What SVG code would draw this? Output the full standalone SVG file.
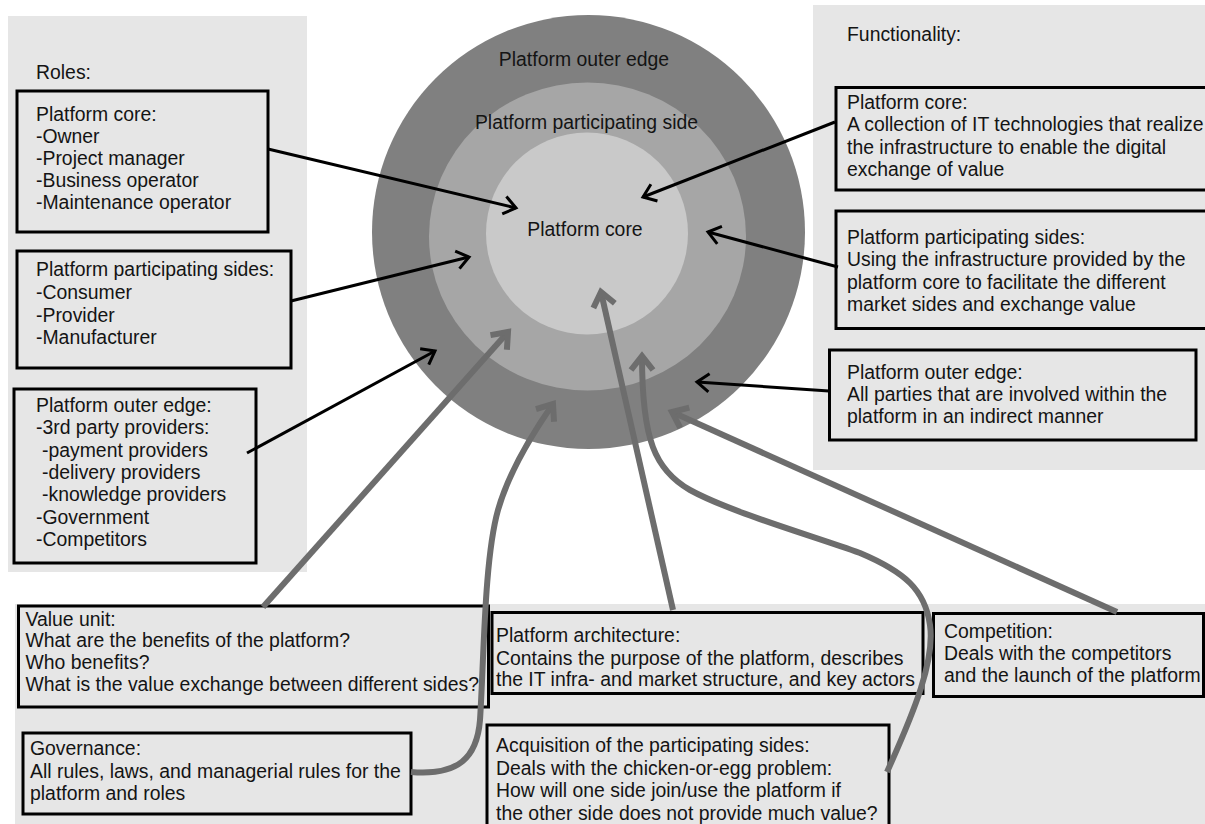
<svg xmlns="http://www.w3.org/2000/svg" width="1205" height="824" viewBox="0 0 1205 824">
  <style>
    .panel { fill: #e6e6e6; }
    .box { fill: #e6e6e6; stroke: #000; stroke-width: 3; }
    text { font-family: "Liberation Sans", Arial, sans-serif; font-size: 19.4px; fill: #141414; }
    .black { fill: none; stroke: #000; stroke-width: 3; marker-end: url(#headBlack); }
    .gray { fill: none; stroke: #6d6d6d; stroke-width: 6; marker-end: url(#headGray); }
  </style>
  <defs>
    <marker id="headBlack" markerUnits="userSpaceOnUse" orient="auto" overflow="visible" refX="0" refY="0" markerWidth="1" markerHeight="1">
      <path d="M -12 -9 L 0 0 L -12 9" fill="none" stroke="#000" stroke-width="3" stroke-linejoin="miter"/>
    </marker>
    <marker id="headGray" markerUnits="userSpaceOnUse" orient="auto" overflow="visible" refX="0" refY="0" markerWidth="1" markerHeight="1">
      <path d="M -14 -11 L 0 0 L -14 11" fill="none" stroke="#6d6d6d" stroke-width="6" stroke-linejoin="miter"/>
    </marker>
  </defs>

  <rect width="1205" height="824" fill="#fff"/>

  <!-- background panels -->
  <g id="panels">
    <rect class="panel" x="8" y="16" width="299" height="556"/>
    <rect class="panel" x="813" y="5" width="392" height="465"/>
    <rect class="panel" x="15" y="604" width="1190" height="220"/>
  </g>

  <!-- concentric platform layers -->
  <g id="platform">
    <ellipse cx="588.5" cy="232" rx="216.5" ry="217" fill="#808080"/>
    <ellipse cx="587.5" cy="236.5" rx="158.5" ry="154" fill="#a6a6a6"/>
    <circle cx="587" cy="233.5" r="101" fill="#c9c9c9"/>
    <text x="584" y="66" text-anchor="middle">Platform outer edge</text>
    <text x="586.5" y="129" text-anchor="middle">Platform participating side</text>
    <text x="585" y="236" text-anchor="middle">Platform core</text>
  </g>

  <!-- roles -->
  <g id="roles-title"><text x="36" y="79">Roles:</text></g>
  <g id="role-core">
    <rect class="box" x="17" y="91" width="251" height="141"/>
    <text x="36" y="121">Platform core:</text>
    <text x="36" y="143">-Owner</text>
    <text x="36" y="165">-Project manager</text>
    <text x="36" y="187">-Business operator</text>
    <text x="36" y="209">-Maintenance operator</text>
  </g>
  <g id="role-sides">
    <rect class="box" x="17" y="251" width="274" height="117"/>
    <text x="36" y="276">Platform participating sides:</text>
    <text x="36" y="299">-Consumer</text>
    <text x="36" y="321.5">-Provider</text>
    <text x="36" y="344">-Manufacturer</text>
  </g>
  <g id="role-edge">
    <rect class="box" x="14" y="389" width="242" height="174"/>
    <text x="36" y="411.5">Platform outer edge:</text>
    <text x="36" y="434">-3rd party providers:</text>
    <text x="42" y="456.5">-payment providers</text>
    <text x="42" y="479">-delivery providers</text>
    <text x="42" y="501">-knowledge providers</text>
    <text x="36" y="523.5">-Government</text>
    <text x="36" y="546">-Competitors</text>
  </g>

  <!-- functionality -->
  <g id="func-title"><text x="847" y="41">Functionality:</text></g>
  <g id="func-core">
    <rect class="box" x="836" y="87.5" width="380" height="102.5"/>
    <text x="847" y="108.5">Platform core:</text>
    <text x="847" y="131">A collection of IT technologies that realize</text>
    <text x="847" y="153.5">the infrastructure to enable the digital</text>
    <text x="847" y="175.5">exchange of value</text>
  </g>
  <g id="func-sides">
    <rect class="box" x="836" y="211" width="380" height="117.5"/>
    <text x="847" y="244">Platform participating sides:</text>
    <text x="847" y="266">Using the infrastructure provided by the</text>
    <text x="847" y="288.5">platform core to facilitate the different</text>
    <text x="847" y="310.5">market sides and exchange value</text>
  </g>
  <g id="func-edge">
    <rect class="box" x="829.5" y="350" width="366.5" height="90"/>
    <text x="847" y="378.5">Platform outer edge:</text>
    <text x="847" y="401">All parties that are involved within the</text>
    <text x="847" y="423">platform in an indirect manner</text>
  </g>

  <!-- design topics -->
  <g id="value-unit">
    <rect class="box" x="18.5" y="606" width="470" height="101"/>
    <text x="25.5" y="626">Value unit:</text>
    <text x="25.5" y="647">What are the benefits of the platform?</text>
    <text x="25.5" y="669">Who benefits?</text>
    <text x="25.5" y="691">What is the value exchange between different sides?</text>
  </g>
  <g id="governance">
    <rect class="box" x="23" y="733" width="388" height="81"/>
    <text x="30" y="755">Governance:</text>
    <text x="30" y="777.5">All rules, laws, and managerial rules for the</text>
    <text x="30" y="800">platform and roles</text>
  </g>
  <g id="architecture">
    <rect class="box" x="492" y="612.5" width="431" height="81"/>
    <text x="496" y="642">Platform architecture:</text>
    <text x="496" y="664.5">Contains the purpose of the platform, describes</text>
    <text x="496" y="686">the IT infra- and market structure, and key actors</text>
  </g>
  <g id="acquisition">
    <rect class="box" x="487" y="725" width="402" height="110"/>
    <text x="496" y="752">Acquisition of the participating sides:</text>
    <text x="496" y="774.5">Deals with the chicken-or-egg problem:</text>
    <text x="496" y="797">How will one side join/use the platform if</text>
    <text x="496" y="819.5">the other side does not provide much value?</text>
  </g>
  <g id="competition">
    <rect class="box" x="933.5" y="613.5" width="270" height="83"/>
    <text x="944" y="637.5">Competition:</text>
    <text x="944" y="660">Deals with the competitors</text>
    <text x="944" y="682">and the launch of the platform</text>
  </g>

  <!-- connectors -->
  <g id="connectors">
    <path class="black" d="M 268 149 L 516 208"/>
    <path class="black" d="M 291 301 L 469 257"/>
    <path class="black" d="M 247 453 L 435 351"/>
    <path class="black" d="M 835 122 L 643 197"/>
    <path class="black" d="M 838 267 L 708 232"/>
    <path class="black" d="M 829 391 L 697 382"/>

    <path class="gray" d="M 263 607 L 508 332"/>
    <path class="gray" d="M 411 772 C 458 776, 477 758, 480 720 C 484 660, 484 560, 498 510 C 508 475, 530 437, 553 404"/>
    <path class="gray" d="M 673 610 L 601 292"/>
    <path class="gray" d="M 887 772 C 915 710, 935 660, 930 625 C 925 590, 905 572, 860 553 C 810 535, 730 512, 690 490 C 655 470, 642 440, 642 356"/>
    <path class="gray" d="M 1117 612 L 672 412"/>
  </g>
</svg>
